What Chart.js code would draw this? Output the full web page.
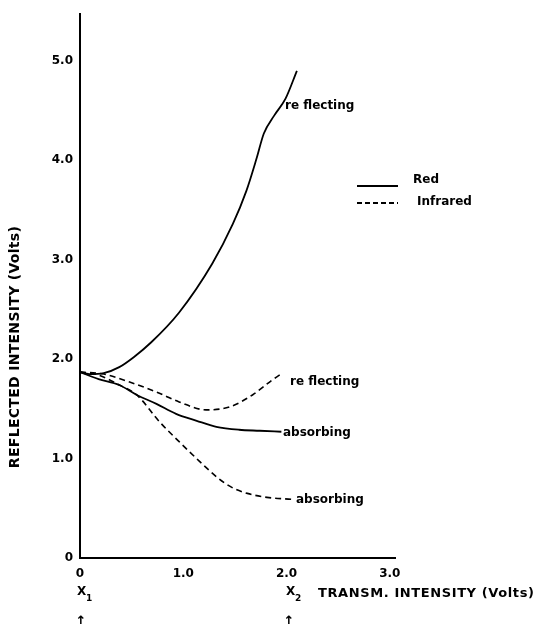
<!DOCTYPE html>
<html>
<head>
<meta charset="utf-8">
<script src="https://cdn.jsdelivr.net/npm/chart.js@4/dist/chart.umd.min.js"></script>
<style>
html,body{margin:0;padding:0;background:#fff;}
#wrap{position:relative;width:537px;height:624px;}
</style>
</head>
<body>
<div id="wrap"><canvas id="c" width="537" height="624"></canvas></div>
<script>
// ---- data (transmitted intensity in volts -> reflected intensity in volts) ----
const redReflectingX  = [0, 0.09, 0.23, 0.38, 0.52, 0.69, 0.96, 1.28, 1.48, 1.61, 1.71, 1.78, 1.88, 1.99, 2.10];
const redReflectingY  = [1.87, 1.85, 1.86, 1.92, 2.02, 2.17, 2.47, 2.96, 3.36, 3.69, 4.02, 4.27, 4.45, 4.62, 4.90];
const redAbsorbingX   = [0, 0.18, 0.38, 0.55, 0.74, 0.93, 1.13, 1.32, 1.54, 1.74, 1.95];
const redAbsorbingY   = [1.87, 1.80, 1.74, 1.64, 1.55, 1.45, 1.38, 1.32, 1.29, 1.28, 1.27];
const irReflectingX   = [0, 0.23, 0.48, 0.74, 0.96, 1.22, 1.45, 1.67, 1.86, 1.96];
const irReflectingY   = [1.87, 1.85, 1.77, 1.67, 1.57, 1.49, 1.52, 1.64, 1.79, 1.86];
const irAbsorbingX    = [0, 0.18, 0.38, 0.55, 0.77, 0.96, 1.16, 1.33, 1.47, 1.62, 1.81, 2.05];
const irAbsorbingY    = [1.87, 1.84, 1.74, 1.64, 1.37, 1.17, 0.97, 0.81, 0.71, 0.65, 0.61, 0.59];
const xTickValues = [0, 1, 2, 3];
const yTickValues = [0, 1, 2, 3, 4, 5];
const legendLabels = ['Red', 'Infrared'];
const curveLabels = ['re flecting', 'absorbing', 're flecting', 'absorbing'];
const xTitle = 'TRANSM. INTENSITY (Volts)';
const yTitle = 'REFLECTED INTENSITY (Volts)';

const pts = (xs, ys) => xs.map((x, i) => ({x: x, y: ys[i]}));
const fmt = v => v === 0 ? '0' : v.toFixed(1);
const BOLD = 'bold 12px "DejaVu Sans"';

const lineBase = {borderColor: '#000', borderWidth: 1.8, pointRadius: 0, fill: false, tension: 0.4, cubicInterpolationMode: 'monotone'};

const textPlugin = {
  id: 'texts',
  afterDraw(chart) {
    const ctx = chart.ctx;
    ctx.save();
    ctx.fillStyle = '#000';
    ctx.strokeStyle = '#000';
    // curve labels
    ctx.font = BOLD;
    ctx.textBaseline = 'middle';
    ctx.textAlign = 'left';
    ctx.fillText(curveLabels[0], 285, 106);
    ctx.fillText(curveLabels[2], 290, 382);
    ctx.fillText(curveLabels[1], 283, 433);
    ctx.fillText(curveLabels[3], 296, 500);
    // legend
    ctx.lineWidth = 2;
    ctx.setLineDash([]);
    ctx.beginPath(); ctx.moveTo(357, 186); ctx.lineTo(398, 186); ctx.stroke();
    ctx.setLineDash([5, 3]);
    ctx.beginPath(); ctx.moveTo(357, 203); ctx.lineTo(398, 203); ctx.stroke();
    ctx.setLineDash([]);
    ctx.fillText(legendLabels[0], 413, 180);
    ctx.fillText(legendLabels[1], 417, 202);
    // x title
    ctx.font = 'bold 13px "DejaVu Sans"';
    try { ctx.letterSpacing = '0.6px'; } catch(e) {}
    ctx.fillText(xTitle, 318, 594);
    // X1, X2
    try { ctx.letterSpacing = '0px'; } catch(e) {}
    ctx.font = 'bold 12px "DejaVu Sans"';
    ctx.fillText('X', 77, 592);
    ctx.fillText('X', 286, 592);
    ctx.font = 'bold 9px "DejaVu Sans"';
    ctx.fillText('1', 86, 599);
    ctx.fillText('2', 295, 599);
    ctx.font = 'bold 13px "DejaVu Sans"';
    ctx.textAlign = 'center';
    ctx.fillText('\u2191', 81, 622);
    ctx.fillText('\u2191', 289, 622);
    // y title
    ctx.translate(15, 347);
    ctx.rotate(-Math.PI / 2);
    ctx.font = 'bold 14px "DejaVu Sans"';
    try { ctx.letterSpacing = '0.3px'; } catch(e) {}
    ctx.textAlign = 'center';
    ctx.fillText(yTitle, 0, 0);
    ctx.restore();
  }
};

new Chart(document.getElementById('c'), {
  type: 'line',
  data: {
    datasets: [
      Object.assign({label: 'Red reflecting', data: pts(redReflectingX, redReflectingY)}, lineBase),
      Object.assign({label: 'Red absorbing', data: pts(redAbsorbingX, redAbsorbingY)}, lineBase),
      Object.assign({label: 'Infrared reflecting', data: pts(irReflectingX, irReflectingY), borderDash: [6, 4]}, lineBase, {borderWidth: 1.6}),
      Object.assign({label: 'Infrared absorbing', data: pts(irAbsorbingX, irAbsorbingY), borderDash: [6, 4]}, lineBase, {borderWidth: 1.6})
    ]
  },
  options: {
    responsive: false,
    animation: false,
    devicePixelRatio: 1,
    layout: {padding: {left: 0, right: 142, top: 8, bottom: 0}},
    plugins: {legend: {display: false}, tooltip: {enabled: false}},
    scales: {
      x: {
        type: 'linear', min: 0, max: 3.05,
        grid: {display: false, drawTicks: false},
        border: {display: true, color: '#000', width: 2},
        afterBuildTicks: s => { s.ticks = xTickValues.map(v => ({value: v})); },
        afterFit: s => { s.height = 66; },
        ticks: {color: '#000', font: {family: 'DejaVu Sans', weight: 'bold', size: 12}, padding: 9, maxRotation: 0, autoSkip: false, callback: v => fmt(v)}
      },
      y: {
        type: 'linear', min: 0, max: 5.47,
        grid: {display: false, drawTicks: false},
        border: {display: true, color: '#000', width: 2},
        afterBuildTicks: s => { s.ticks = yTickValues.map(v => ({value: v})); },
        afterFit: s => { s.width = 80; },
        ticks: {color: '#000', font: {family: 'DejaVu Sans', weight: 'bold', size: 12}, padding: 7, autoSkip: false, callback: v => fmt(v)}
      }
    }
  },
  plugins: [textPlugin]
});
</script>
</body>
</html>
